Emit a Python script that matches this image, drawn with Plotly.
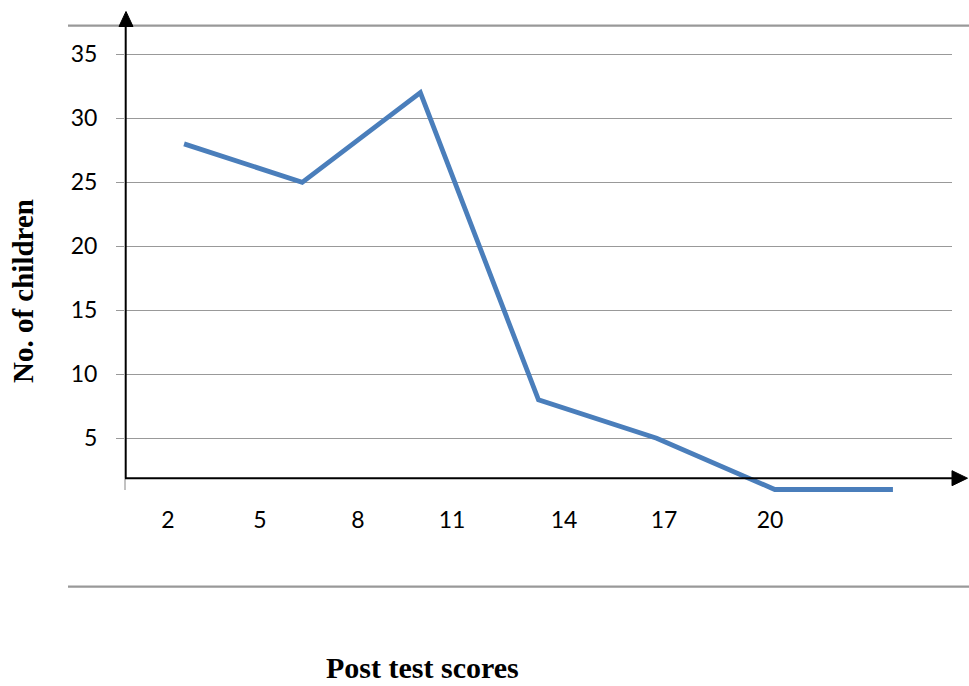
import plotly.graph_objects as go

# ---------------- data ----------------
children = [28, 25, 32, 8, 5, 1, 1]          # No. of children per group
score_labels = ["2", "5", "8", "11", "14", "17", "20"]   # typed labels under the axis
y_ticks = [5, 10, 15, 20, 25, 30, 35]
y_title = "No. of children"
x_title = "Post test scores"

# ---------------- layout geometry (pixels) ----------------
W, H = 969, 686
L, R, T, B = 125, 952, 8, 502          # plot area edges in pixels
PPU = 12.8                              # pixels per y unit
Y0 = 502.3                              # pixel row of y = 0
CAT_W = (R - L) / len(children)         # pixel width of one category band

def px_x(p):
    return (p - L) / (R - L)

def px_y(p):
    return (B - p) / (B - T)

def px_to_cat(p):
    return (p - L) / CAT_W - 0.5

# pixel centres of the typed score labels
label_px = [168, 260, 358, 452, 564, 664, 770]
label_pos = [px_to_cat(p) for p in label_px]

GRID = "#999999"
BLUE = "#4A7EBB"

fig = go.Figure()
fig.add_trace(go.Scatter(
    x=list(range(len(children))), y=children, mode="lines",
    line=dict(color=BLUE, width=4.8), hoverinfo="skip", showlegend=False,
))

shapes = []
def hline(x0, x1, y, color, width):
    shapes.append(dict(type="line", xref="paper", yref="paper",
                       x0=px_x(x0), x1=px_x(x1), y0=px_y(y), y1=px_y(y),
                       line=dict(color=color, width=width)))

def vline(x, y0, y1, color, width):
    shapes.append(dict(type="line", xref="paper", yref="paper",
                       x0=px_x(x), x1=px_x(x), y0=px_y(y0), y1=px_y(y1),
                       line=dict(color=color, width=width)))

def tri(pts):
    d = "M " + " L ".join(f"{px_x(a):.5f},{px_y(b):.5f}" for a, b in pts) + " Z"
    shapes.append(dict(type="path", xref="paper", yref="paper", path=d,
                       fillcolor="black", line=dict(color="black", width=1)))

hline(68, 969, 25.7, GRID, 2.2)       # top frame line
hline(68, 969, 586.7, GRID, 2.2)      # bottom frame line
vline(125, 478.3, 490, GRID, 1.2)     # small tick under origin
vline(125.7, 478.3, 25, "black", 2)   # y axis
hline(125, 953, 478.3, "black", 2)    # x axis
tri([(126, 11.5), (119, 26.5), (133, 26.5)])
tri([(967.5, 478.2), (952, 470.7), (952, 485.7)])

fig.update_layout(
    width=W, height=H,
    margin=dict(l=L, r=W - R, t=T, b=H - B),
    paper_bgcolor="white", plot_bgcolor="white",
    showlegend=False,
    shapes=shapes,
    xaxis=dict(range=[-0.5, len(children) - 0.5], tickmode="array",
               tickvals=label_pos, ticktext=score_labels,
               showgrid=False, zeroline=False, showline=False, ticks="",
               tickfont=dict(family="Lato", size=23, color="black"),
               ticklabelstandoff=2),
    yaxis=dict(range=[(Y0 - B) / PPU, (Y0 - T) / PPU], tickmode="array",
               tickvals=y_ticks, showgrid=True, gridcolor=GRID, gridwidth=1.2,
               zeroline=False, showline=False, ticks="outside", ticklen=8,
               tickcolor=GRID, tickwidth=1.2,
               tickfont=dict(family="Lato", size=23, color="black"),
               ticklabelstandoff=14),
    annotations=[
        dict(text=f"<b>{y_title}</b>", xref="paper", yref="paper",
             x=px_x(22.5), y=px_y(291.5), textangle=-90, showarrow=False,
             font=dict(family="Liberation Serif", size=29, color="black"),
             xanchor="center", yanchor="middle"),
        dict(text=f"<b>{x_title}</b>", xref="paper", yref="paper",
             x=px_x(422), y=px_y(667.5), showarrow=False,
             font=dict(family="Liberation Serif", size=30, color="black"),
             xanchor="center", yanchor="middle"),
    ],
)

fig.write_html("out.html")
